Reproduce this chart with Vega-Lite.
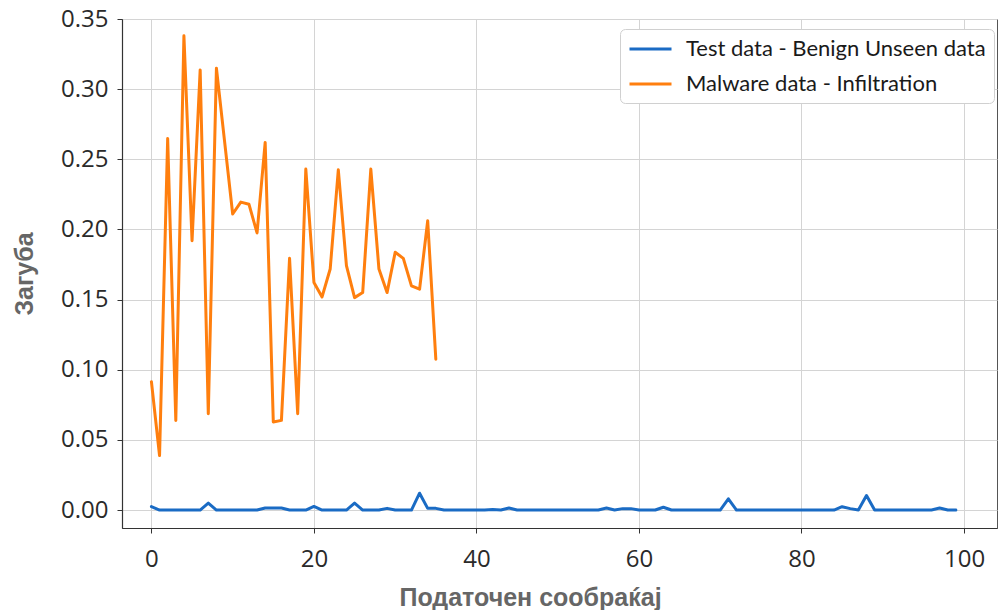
{
  "$schema": "https://vega.github.io/schema/vega-lite/v6.json",
  "width": 875,
  "height": 509,
  "autosize": {"type": "none"},
  "padding": {"left": 122, "top": 19, "right": 2, "bottom": 82},
  "background": "white",
  "config": {
    "view": {"stroke": "#555", "strokeWidth": 1},
    "axis": {
      "labelFont": "Open Sans",
      "labelFontSize": 24,
      "labelColor": "#2a2a2a",
      "titleFont": "Liberation Sans",
      "titleFontSize": 25,
      "titleFontWeight": "bold",
      "titleColor": "#666",
      "domainColor": "#333",
      "domainWidth": 1.2,
      "tickColor": "#333",
      "tickSize": 5,
      "gridColor": "#d4d4d4",
      "gridWidth": 1
    },
    "legend": {
      "labelFont": "Lato",
      "labelFontSize": 22,
      "labelColor": "#1a1a1a",
      "labelLimit": 500
    }
  },
  "datasets": {
    "loss": [
      {"s": "Test data - Benign Unseen data", "i": 0, "v": 0.0024},
      {"s": "Test data - Benign Unseen data", "i": 1, "v": 0},
      {"s": "Test data - Benign Unseen data", "i": 2, "v": 0},
      {"s": "Test data - Benign Unseen data", "i": 3, "v": 0},
      {"s": "Test data - Benign Unseen data", "i": 4, "v": 0},
      {"s": "Test data - Benign Unseen data", "i": 5, "v": 0},
      {"s": "Test data - Benign Unseen data", "i": 6, "v": 0},
      {"s": "Test data - Benign Unseen data", "i": 7, "v": 0.005},
      {"s": "Test data - Benign Unseen data", "i": 8, "v": 0},
      {"s": "Test data - Benign Unseen data", "i": 9, "v": 0},
      {"s": "Test data - Benign Unseen data", "i": 10, "v": 0},
      {"s": "Test data - Benign Unseen data", "i": 11, "v": 0},
      {"s": "Test data - Benign Unseen data", "i": 12, "v": 0},
      {"s": "Test data - Benign Unseen data", "i": 13, "v": 0},
      {"s": "Test data - Benign Unseen data", "i": 14, "v": 0.0014},
      {"s": "Test data - Benign Unseen data", "i": 15, "v": 0.0014},
      {"s": "Test data - Benign Unseen data", "i": 16, "v": 0.0014},
      {"s": "Test data - Benign Unseen data", "i": 17, "v": 0},
      {"s": "Test data - Benign Unseen data", "i": 18, "v": 0},
      {"s": "Test data - Benign Unseen data", "i": 19, "v": 0},
      {"s": "Test data - Benign Unseen data", "i": 20, "v": 0.0026},
      {"s": "Test data - Benign Unseen data", "i": 21, "v": 0},
      {"s": "Test data - Benign Unseen data", "i": 22, "v": 0},
      {"s": "Test data - Benign Unseen data", "i": 23, "v": 0},
      {"s": "Test data - Benign Unseen data", "i": 24, "v": 0},
      {"s": "Test data - Benign Unseen data", "i": 25, "v": 0.005},
      {"s": "Test data - Benign Unseen data", "i": 26, "v": 0},
      {"s": "Test data - Benign Unseen data", "i": 27, "v": 0},
      {"s": "Test data - Benign Unseen data", "i": 28, "v": 0},
      {"s": "Test data - Benign Unseen data", "i": 29, "v": 0.0012},
      {"s": "Test data - Benign Unseen data", "i": 30, "v": 0},
      {"s": "Test data - Benign Unseen data", "i": 31, "v": 0},
      {"s": "Test data - Benign Unseen data", "i": 32, "v": 0},
      {"s": "Test data - Benign Unseen data", "i": 33, "v": 0.012},
      {"s": "Test data - Benign Unseen data", "i": 34, "v": 0.0012},
      {"s": "Test data - Benign Unseen data", "i": 35, "v": 0.0012},
      {"s": "Test data - Benign Unseen data", "i": 36, "v": 0},
      {"s": "Test data - Benign Unseen data", "i": 37, "v": 0},
      {"s": "Test data - Benign Unseen data", "i": 38, "v": 0},
      {"s": "Test data - Benign Unseen data", "i": 39, "v": 0},
      {"s": "Test data - Benign Unseen data", "i": 40, "v": 0},
      {"s": "Test data - Benign Unseen data", "i": 41, "v": 0},
      {"s": "Test data - Benign Unseen data", "i": 42, "v": 0.0003},
      {"s": "Test data - Benign Unseen data", "i": 43, "v": 0},
      {"s": "Test data - Benign Unseen data", "i": 44, "v": 0.0014},
      {"s": "Test data - Benign Unseen data", "i": 45, "v": 0},
      {"s": "Test data - Benign Unseen data", "i": 46, "v": 0},
      {"s": "Test data - Benign Unseen data", "i": 47, "v": 0},
      {"s": "Test data - Benign Unseen data", "i": 48, "v": 0},
      {"s": "Test data - Benign Unseen data", "i": 49, "v": 0},
      {"s": "Test data - Benign Unseen data", "i": 50, "v": 0},
      {"s": "Test data - Benign Unseen data", "i": 51, "v": 0},
      {"s": "Test data - Benign Unseen data", "i": 52, "v": 0},
      {"s": "Test data - Benign Unseen data", "i": 53, "v": 0},
      {"s": "Test data - Benign Unseen data", "i": 54, "v": 0},
      {"s": "Test data - Benign Unseen data", "i": 55, "v": 0},
      {"s": "Test data - Benign Unseen data", "i": 56, "v": 0.0014},
      {"s": "Test data - Benign Unseen data", "i": 57, "v": 0},
      {"s": "Test data - Benign Unseen data", "i": 58, "v": 0.001},
      {"s": "Test data - Benign Unseen data", "i": 59, "v": 0.001},
      {"s": "Test data - Benign Unseen data", "i": 60, "v": 0},
      {"s": "Test data - Benign Unseen data", "i": 61, "v": 0},
      {"s": "Test data - Benign Unseen data", "i": 62, "v": 0},
      {"s": "Test data - Benign Unseen data", "i": 63, "v": 0.002},
      {"s": "Test data - Benign Unseen data", "i": 64, "v": 0},
      {"s": "Test data - Benign Unseen data", "i": 65, "v": 0},
      {"s": "Test data - Benign Unseen data", "i": 66, "v": 0},
      {"s": "Test data - Benign Unseen data", "i": 67, "v": 0},
      {"s": "Test data - Benign Unseen data", "i": 68, "v": 0},
      {"s": "Test data - Benign Unseen data", "i": 69, "v": 0},
      {"s": "Test data - Benign Unseen data", "i": 70, "v": 0},
      {"s": "Test data - Benign Unseen data", "i": 71, "v": 0.008},
      {"s": "Test data - Benign Unseen data", "i": 72, "v": 0},
      {"s": "Test data - Benign Unseen data", "i": 73, "v": 0},
      {"s": "Test data - Benign Unseen data", "i": 74, "v": 0},
      {"s": "Test data - Benign Unseen data", "i": 75, "v": 0},
      {"s": "Test data - Benign Unseen data", "i": 76, "v": 0},
      {"s": "Test data - Benign Unseen data", "i": 77, "v": 0},
      {"s": "Test data - Benign Unseen data", "i": 78, "v": 0},
      {"s": "Test data - Benign Unseen data", "i": 79, "v": 0},
      {"s": "Test data - Benign Unseen data", "i": 80, "v": 0},
      {"s": "Test data - Benign Unseen data", "i": 81, "v": 0},
      {"s": "Test data - Benign Unseen data", "i": 82, "v": 0},
      {"s": "Test data - Benign Unseen data", "i": 83, "v": 0},
      {"s": "Test data - Benign Unseen data", "i": 84, "v": 0},
      {"s": "Test data - Benign Unseen data", "i": 85, "v": 0.0024},
      {"s": "Test data - Benign Unseen data", "i": 86, "v": 0.001},
      {"s": "Test data - Benign Unseen data", "i": 87, "v": 0},
      {"s": "Test data - Benign Unseen data", "i": 88, "v": 0.0103},
      {"s": "Test data - Benign Unseen data", "i": 89, "v": 0},
      {"s": "Test data - Benign Unseen data", "i": 90, "v": 0},
      {"s": "Test data - Benign Unseen data", "i": 91, "v": 0},
      {"s": "Test data - Benign Unseen data", "i": 92, "v": 0},
      {"s": "Test data - Benign Unseen data", "i": 93, "v": 0},
      {"s": "Test data - Benign Unseen data", "i": 94, "v": 0},
      {"s": "Test data - Benign Unseen data", "i": 95, "v": 0},
      {"s": "Test data - Benign Unseen data", "i": 96, "v": 0},
      {"s": "Test data - Benign Unseen data", "i": 97, "v": 0.0014},
      {"s": "Test data - Benign Unseen data", "i": 98, "v": 0},
      {"s": "Test data - Benign Unseen data", "i": 99, "v": 0},
      {"s": "Malware data - Infiltration", "i": 0, "v": 0.0915},
      {"s": "Malware data - Infiltration", "i": 1, "v": 0.0388},
      {"s": "Malware data - Infiltration", "i": 2, "v": 0.2648},
      {"s": "Malware data - Infiltration", "i": 3, "v": 0.0639},
      {"s": "Malware data - Infiltration", "i": 4, "v": 0.338},
      {"s": "Malware data - Infiltration", "i": 5, "v": 0.192},
      {"s": "Malware data - Infiltration", "i": 6, "v": 0.3137},
      {"s": "Malware data - Infiltration", "i": 7, "v": 0.0687},
      {"s": "Malware data - Infiltration", "i": 8, "v": 0.3149},
      {"s": "Malware data - Infiltration", "i": 9, "v": 0.263},
      {"s": "Malware data - Infiltration", "i": 10, "v": 0.211},
      {"s": "Malware data - Infiltration", "i": 11, "v": 0.2195},
      {"s": "Malware data - Infiltration", "i": 12, "v": 0.218},
      {"s": "Malware data - Infiltration", "i": 13, "v": 0.1975},
      {"s": "Malware data - Infiltration", "i": 14, "v": 0.262},
      {"s": "Malware data - Infiltration", "i": 15, "v": 0.0627},
      {"s": "Malware data - Infiltration", "i": 16, "v": 0.0639},
      {"s": "Malware data - Infiltration", "i": 17, "v": 0.1794},
      {"s": "Malware data - Infiltration", "i": 18, "v": 0.0687},
      {"s": "Malware data - Infiltration", "i": 19, "v": 0.243},
      {"s": "Malware data - Infiltration", "i": 20, "v": 0.1622},
      {"s": "Malware data - Infiltration", "i": 21, "v": 0.1519},
      {"s": "Malware data - Infiltration", "i": 22, "v": 0.1718},
      {"s": "Malware data - Infiltration", "i": 23, "v": 0.2425},
      {"s": "Malware data - Infiltration", "i": 24, "v": 0.1742},
      {"s": "Malware data - Infiltration", "i": 25, "v": 0.1514},
      {"s": "Malware data - Infiltration", "i": 26, "v": 0.155},
      {"s": "Malware data - Infiltration", "i": 27, "v": 0.243},
      {"s": "Malware data - Infiltration", "i": 28, "v": 0.1718},
      {"s": "Malware data - Infiltration", "i": 29, "v": 0.155},
      {"s": "Malware data - Infiltration", "i": 30, "v": 0.1837},
      {"s": "Malware data - Infiltration", "i": 31, "v": 0.1794},
      {"s": "Malware data - Infiltration", "i": 32, "v": 0.1598},
      {"s": "Malware data - Infiltration", "i": 33, "v": 0.1574},
      {"s": "Malware data - Infiltration", "i": 34, "v": 0.2062},
      {"s": "Malware data - Infiltration", "i": 35, "v": 0.1075}
    ]
  },
  "data": {"name": "loss"},
  "mark": {"type": "line", "strokeWidth": 3, "strokeJoin": "round", "strokeCap": "round"},
  "encoding": {
    "x": {
      "field": "i",
      "type": "quantitative",
      "scale": {"domain": [-3.62, 104.06], "nice": false, "zero": false},
      "axis": {
        "values": [0, 20, 40, 60, 80, 100],
        "title": "Податочен сообраќај",
        "labelPadding": 14,
        "titlePadding": 14,
        "titleX": 408
      }
    },
    "y": {
      "field": "v",
      "type": "quantitative",
      "scale": {"domain": [-0.0128, 0.35], "nice": false, "zero": false},
      "axis": {
        "values": [0, 0.05, 0.1, 0.15, 0.2, 0.25, 0.3, 0.35],
        "format": ".2f",
        "title": "Загуба",
        "labelPadding": 9,
        "titlePadding": 23
      }
    },
    "color": {
      "field": "s",
      "type": "nominal",
      "sort": ["Test data - Benign Unseen data", "Malware data - Infiltration"],
      "scale": {
        "domain": ["Test data - Benign Unseen data", "Malware data - Infiltration"],
        "range": ["#1a6bc4", "#ff7f0e"]
      },
      "legend": {
        "title": null,
        "orient": "none",
        "legendX": 498,
        "legendY": 10,
        "fillColor": "white",
        "strokeColor": "#d0d0d0",
        "cornerRadius": 5,
        "padding": 8,
        "symbolType": "M-1,0H3",
        "symbolStrokeWidth": 3,
        "symbolSize": 441,
        "labelOffset": 34,
        "rowPadding": 12
      }
    }
  }
}
